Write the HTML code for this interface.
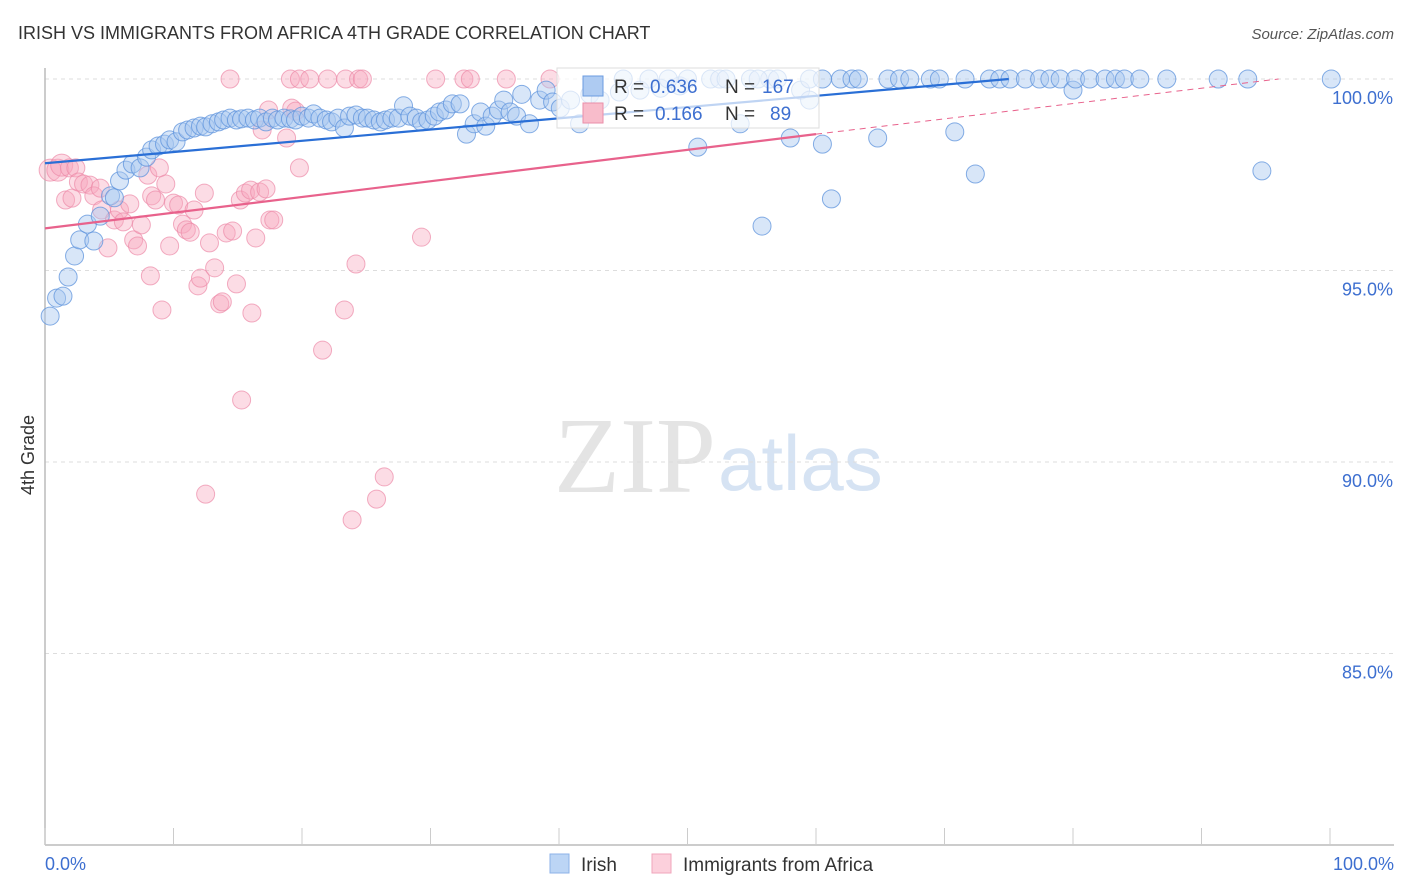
<!DOCTYPE html>
<html><head><meta charset="utf-8"><style>
body{margin:0;background:#fff;font-family:"Liberation Sans",sans-serif;}
svg{display:block}
</style></head><body>
<svg id="chart" width="1406" height="892">
<text x="18" y="39" font-size="18" fill="#333">IRISH VS IMMIGRANTS FROM AFRICA 4TH GRADE CORRELATION CHART</text>
<text x="1394" y="39" font-size="15" fill="#555" font-style="italic" text-anchor="end">Source: ZipAtlas.com</text>
<text x="34" y="455" font-size="18" fill="#333" transform="rotate(-90 34 455)" text-anchor="middle">4th Grade</text>
<text x="716" y="492" font-size="108" fill="#e4e4e4" font-family="Liberation Serif, serif" text-anchor="end">ZIP</text>
<text x="718" y="490" font-size="78" fill="#d6e3f3">atlas</text>
<g id="grid"></g><g id="axes"></g><g id="pts"></g><g id="trends"></g>
<g>
<rect x="557" y="68" width="262" height="60" fill="#fff" fill-opacity="0.7" stroke="#ddd"/>
<rect x="583" y="76" width="20" height="20" fill="#aecbf2" stroke="#6b9be0"/>
<text y="93" font-size="19" fill="#333"><tspan x="614">R =</tspan><tspan x="650" fill="#3d6fd0">0.636</tspan><tspan x="725">N =</tspan><tspan x="762" fill="#3d6fd0">167</tspan></text>
<rect x="583" y="103" width="20" height="20" fill="#f8bccb" stroke="#ea8ea8"/>
<text y="120" font-size="19" fill="#333"><tspan x="614">R =</tspan><tspan x="655" fill="#3d6fd0">0.166</tspan><tspan x="725">N =</tspan><tspan x="770" fill="#3d6fd0">89</tspan></text>
</g>
<g>
<rect x="550" y="854" width="19" height="19" fill="#bcd5f5" stroke="#8cb2e8"/>
<text x="581" y="871" font-size="19" fill="#333">Irish</text>
<rect x="652" y="854" width="19" height="19" fill="#fcd0dc" stroke="#f0a6bb"/>
<text x="683" y="871" font-size="19" fill="#333">Immigrants from Africa</text>
</g>
</svg>
<script>
const irishX=[0.4,0.9,1.4,1.8,2.3,2.7,3.3,3.8,4.3,5.1,5.4,5.8,6.3,6.8,7.4,7.9,8.3,8.8,9.3,9.7,10.2,10.7,11.1,11.6,12.1,12.5,13,13.5,13.9,14.4,14.9,15.3,15.8,16.3,16.7,17.2,17.7,18.1,18.6,19.1,19.5,20,20.5,20.9,21.4,21.9,22.3,22.8,23.3,23.7,24.2,24.7,25.1,25.6,26.1,26.5,27,27.5,27.9,28.4,28.9,29.3,29.8,30.3,30.7,31.2,31.7,32.3,32.8,33.4,33.9,34.3,34.8,35.3,35.7,36.2,36.7,37.1,37.7,38.5,39,39.5,40.1,40.9,41.6,42.4,43.2,44.7,46.3,47.9,49.4,50.8,51.8,52.5,54.1,54.9,55.8,56.4,58,58.8,59.5,60.5,61.2,61.9,62.8,63.3,64.8,65.6,66.5,67.3,68.9,69.6,70.8,71.6,72.4,73.5,74.3,75.1,76.3,77.4,78.2,79,80,80.2,81.3,82.5,83.3,84,85.2,87.3,91.3,93.6,94.7,100.1,45,47,48.5,50,53,55.5,57,59.5,60.5];
const irishY=[93.81,94.28,94.33,94.83,95.38,95.8,96.21,95.77,96.42,96.95,96.9,97.34,97.62,97.78,97.68,97.96,98.15,98.25,98.3,98.41,98.36,98.62,98.67,98.72,98.77,98.75,98.83,98.88,98.93,98.98,98.93,98.96,98.98,98.93,98.98,98.88,98.98,98.93,98.98,98.96,98.93,99.03,98.98,99.09,98.98,98.93,98.88,98.98,98.72,99.03,99.06,98.98,98.98,98.93,98.88,98.93,98.98,98.98,99.3,99.03,98.98,98.88,98.93,99.03,99.14,99.19,99.35,99.35,98.56,98.83,99.14,98.77,99.03,99.19,99.45,99.14,99.03,99.6,98.83,99.45,99.71,99.4,99.24,99.45,98.83,99.6,99.45,99.66,99.71,99.76,99.82,98.22,100,100,98.83,100,96.16,100,98.46,99.71,99.45,98.3,96.87,100,100,100,98.46,100,100,100,100,100,98.62,100,97.52,100,100,100,100,100,100,100,99.71,100,100,100,100,100,100,100,100,100,97.6,100,100,100,100,100,100,100,100,100,100];
const afrX=[0.4,1,1.3,1.9,2.4,1.6,2.1,2.6,3,3.5,3.8,4.3,4.4,4.9,5.4,5.8,6.1,6.6,6.9,7.2,7.5,8,8.2,8.3,8.6,8.9,9.1,9.4,9.7,10,10.4,10.7,11,11.3,11.6,11.9,12.1,12.4,12.5,12.8,13.2,13.6,13.8,14.1,14.6,14.9,15.2,15.3,15.6,16,16.1,16.4,16.7,16.9,17.2,17.4,17.5,17.8,18.8,19.2,19.5,19.8,21.6,23.3,23.9,24.2,25.8,26.4,29.3,14.4,19.1,19.8,20.6,22,23.4,24.4,24.7,30.4,32.6,33.1,35.9,39.3];
const afrY=[97.62,97.62,97.75,97.68,97.68,96.84,96.89,97.31,97.26,97.23,96.95,97.15,96.58,95.59,96.32,96.58,96.27,96.74,95.8,95.64,96.19,97.49,94.86,96.95,96.84,97.68,93.97,97.26,95.64,96.76,96.71,96.21,96.06,96,96.58,94.6,94.8,97.02,89.16,95.72,95.07,94.13,94.18,95.98,96.03,94.65,96.84,91.62,97.02,97.1,93.89,95.85,97.05,98.67,97.13,99.19,96.32,96.32,98.46,99.24,99.16,97.68,92.92,93.97,88.49,95.17,89.03,89.61,95.87,100,100,100,100,100,100,100,100,100,100,100,100,100];
const trendIrish=[97.8,100,75];
const trendAfr=[96.1,98.56,60,100,96];

const NS='http://www.w3.org/2000/svg';
const X=v=>45+v*12.85, Y=v=>79+(100-v)*38.3;
function mk(tag,attrs,parent){const e=document.createElementNS(NS,tag);for(const k in attrs)e.setAttribute(k,attrs[k]);parent.appendChild(e);return e;}
const grid=document.getElementById('grid'),axes=document.getElementById('axes'),pts=document.getElementById('pts'),tr=document.getElementById('trends');
const yTicks=[100,95,90,85];
yTicks.forEach(t=>{
 const l=mk('line',{x1:45,x2:1394,y1:Y(t),y2:Y(t),stroke:'#ddd','stroke-dasharray':'4,4'},grid);
 
 
 const tx=mk('text',{x:1393,y:Y(t)+25,'font-size':18,fill:'#3d6fd0','text-anchor':'end'},grid);
 tx.textContent=t.toFixed(1)+'%';
 
 
});
const a1=mk('line',{x1:45,x2:45,y1:68,y2:845,stroke:'#bbb','stroke-width':1.5},axes);


const a2=mk('line',{x1:45,x2:1394,y1:845,y2:845,stroke:'#bbb','stroke-width':1.5},axes);


for(let i=0;i<=10;i++){
 const t=mk('line',{x1:X(i*10),x2:X(i*10),y1:828,y2:845,stroke:'#ccc'},axes);
 
 
}
[['0.0%',45,'start'],['100.0%',1394,'end']].forEach(d=>{
 const t=mk('text',{x:d[1],y:870,'font-size':18,fill:'#3d6fd0','text-anchor':d[2]},axes);
 t.textContent=d[0];
 
 
});
afrX.forEach((x,i)=>{
 const r=i<3?11:9;
 const c=mk('circle',{cx:X(x),cy:Y(afrY[i]),r:r,fill:'#f7a8bf','fill-opacity':0.4,stroke:'#ec8aa8','stroke-opacity':0.7,'stroke-width':1},pts);
 
 
});
irishX.forEach((x,i)=>{
 const c=mk('circle',{cx:X(x),cy:Y(irishY[i]),r:9,fill:'#a9c8f0','fill-opacity':0.45,stroke:'#5e93dc','stroke-opacity':0.75,'stroke-width':1},pts);
 
 
});
const ti=mk('line',{x1:X(0),y1:Y(trendIrish[0]),x2:X(trendIrish[2]),y2:Y(trendIrish[1]),stroke:'#2a6fd6','stroke-width':2.2},tr);


const ta=mk('line',{x1:X(0),y1:Y(trendAfr[0]),x2:X(trendAfr[2]),y2:Y(trendAfr[1]),stroke:'#e8628c','stroke-width':2.2},tr);


const td=mk('line',{x1:X(trendAfr[2]),y1:Y(trendAfr[1]),x2:X(trendAfr[4]),y2:Y(trendAfr[3]),stroke:'#e8628c','stroke-width':1,'stroke-dasharray':'6,5'},tr);


</script>
</body></html>
